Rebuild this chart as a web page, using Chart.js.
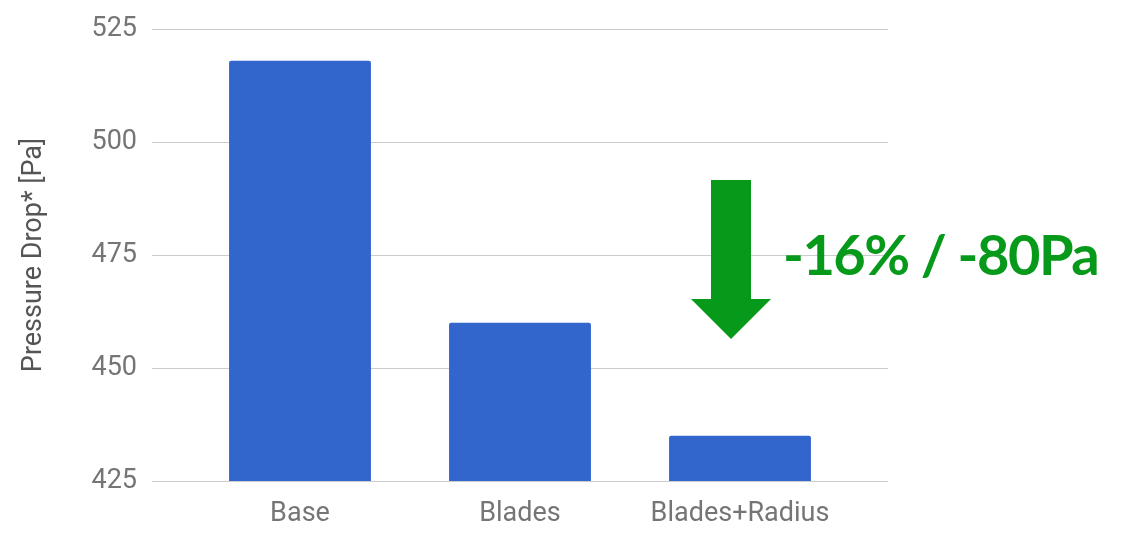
<!DOCTYPE html>
<html>
<head>
<meta charset="utf-8">
<script src="https://cdn.jsdelivr.net/npm/chart.js@4"></script>
<style>
  html, body { margin: 0; padding: 0; background: #fff; }
  #wrap { width: 1139px; height: 541px; }
</style>
</head>
<body>
<div id="wrap"><canvas id="pressureChart" width="1139" height="541"></canvas></div>
<script>
const categories = ['Base', 'Blades', 'Blades+Radius'];
const pressureDrop = [518, 460, 435];
const yTicks = [425, 450, 475, 500, 525];
const noteText = '-16% / -80Pa';

const GREEN = '#079a1a';

// gridlines run a bit wider than the bar band, like the original
const wideGrid = {
  id: 'wideGrid',
  beforeDatasetsDraw(chart) {
    const { ctx, chartArea, scales } = chart;
    ctx.save();
    ctx.strokeStyle = '#cccccc';
    ctx.lineWidth = 1;
    yTicks.forEach(v => {
      const y = Math.round(scales.y.getPixelForValue(v)) + 0.5;
      ctx.beginPath();
      ctx.moveTo(chartArea.left - 38, y);
      ctx.lineTo(chartArea.right + 38, y);
      ctx.stroke();
    });
    ctx.restore();
  }
};

// green arrow + note
const annotation = {
  id: 'annotation',
  afterDraw(chart) {
    const { ctx } = chart;
    ctx.save();
    ctx.fillStyle = GREEN;
    ctx.beginPath();
    ctx.moveTo(711, 180);
    ctx.lineTo(751, 180);
    ctx.lineTo(751, 299);
    ctx.lineTo(771, 299);
    ctx.lineTo(731, 339);
    ctx.lineTo(691, 299);
    ctx.lineTo(711, 299);
    ctx.closePath();
    ctx.fill();
    ctx.font = 'bold 56px Lato';
    ctx.letterSpacing = '-1.5px';
    ctx.textBaseline = 'alphabetic';
    ctx.fillText(noteText, 783, 275);
    ctx.restore();
  }
};

new Chart(document.getElementById('pressureChart'), {
  type: 'bar',
  data: {
    labels: categories,
    datasets: [{
      data: pressureDrop,
      backgroundColor: '#3366cc',
      borderRadius: { topLeft: 2, topRight: 2 },
      borderSkipped: 'bottom',
      categoryPercentage: 1,
      barPercentage: 0.645
    }]
  },
  options: {
    responsive: false,
    animation: false,
    layout: { padding: { top: 29, right: 289, left: 0, bottom: 0 } },
    plugins: { legend: { display: false }, tooltip: { enabled: false } },
    scales: {
      x: {
        grid: { display: false, drawTicks: false },
        border: { display: false },
        ticks: { color: '#757575', font: { family: 'Roboto', size: 27 }, padding: 17 },
        afterFit: s => { s.height = 60; }
      },
      y: {
        min: 425,
        max: 525,
        afterBuildTicks: s => { s.ticks = yTicks.map(v => ({ value: v })); },
        grid: { display: false, drawTicks: false },
        border: { display: false },
        ticks: { color: '#757575', font: { family: 'Roboto', size: 27 }, padding: 53 },
        title: {
          display: true,
          text: 'Pressure Drop* [Pa]',
          color: '#555555',
          font: { family: 'Roboto', size: 27 },
          padding: { top: 18, bottom: 0 }
        },
        // tick padding also pads the axis vertically; drop that
        afterFit: s => { s.width = 190; s.paddingTop = 0; s.paddingBottom = 0; }
      }
    }
  },
  plugins: [wideGrid, annotation]
});
</script>
</body>
</html>
